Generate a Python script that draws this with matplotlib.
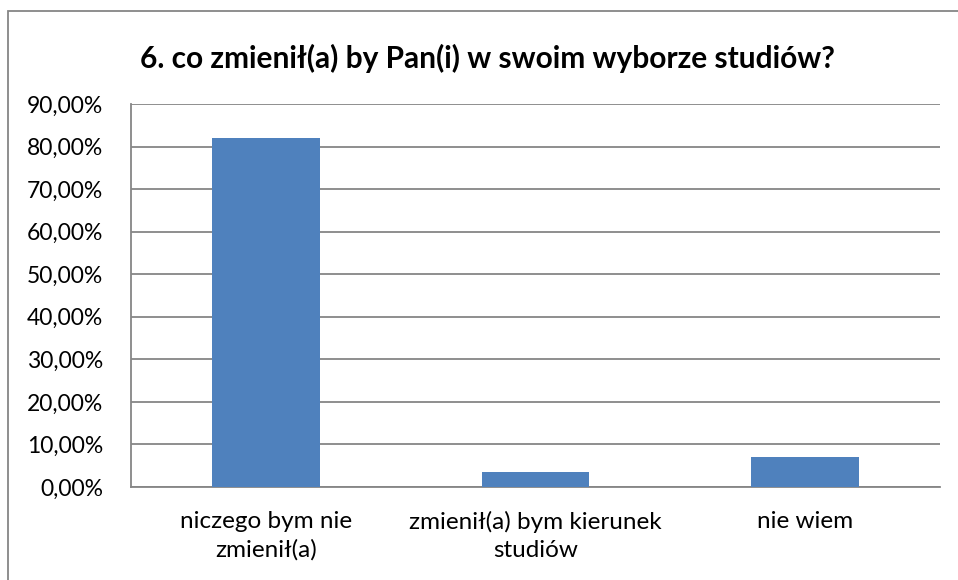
import matplotlib.pyplot as plt
from matplotlib.patches import Rectangle
from matplotlib.ticker import FuncFormatter

categories = ['niczego bym nie\nzmienił(a)', 'zmienił(a) bym kierunek\nstudiów', 'nie wiem']
values = [82.0, 3.6, 7.0]
yticks = [0, 10, 20, 30, 40, 50, 60, 70, 80, 90]

plt.rcParams['font.family'] = ['Lato', 'DejaVu Sans']

fig = plt.figure(figsize=(9.58, 5.80), dpi=100)
ax = fig.add_axes([131 / 958, 1 - 487 / 580, (940 - 131) / 958, (487 - 104) / 580])

ax.bar(range(len(values)), values, width=0.4, color='#4f81bd', zorder=3)

ax.set_xlim(-0.5, len(values) - 0.5)
ax.set_ylim(0, 90)
ax.set_yticks(yticks)
ax.yaxis.set_major_formatter(FuncFormatter(lambda v, p: f'{v:.2f}%'.replace('.', ',')))
ax.set_xticks(range(len(values)))
ax.set_xticklabels(categories, fontsize=17.5, linespacing=1.4)
ax.tick_params(axis='y', labelsize=16.5, length=0, pad=20)
ax.tick_params(axis='x', length=0, pad=17)
ax.grid(axis='y', color='#868686', linewidth=1.3, zorder=0)

for side in ['top', 'right']:
    ax.spines[side].set_visible(False)
for side in ['left', 'bottom']:
    ax.spines[side].set_color('#868686')
    ax.spines[side].set_linewidth(1.3)

fig.text(487 / 958, 1 - 58 / 580, '6. co zmienił(a) by Pan(i) w swoim wyborze studiów?',
         ha='center', va='center', fontsize=21.5, fontweight='bold')

fig.patches.append(Rectangle((8 / 958, -0.1), 1.2, 1 - 11 / 580 + 0.1, transform=fig.transFigure,
                             fill=False, edgecolor='#868686', linewidth=1.3))

fig.savefig('out.png', dpi=100)
